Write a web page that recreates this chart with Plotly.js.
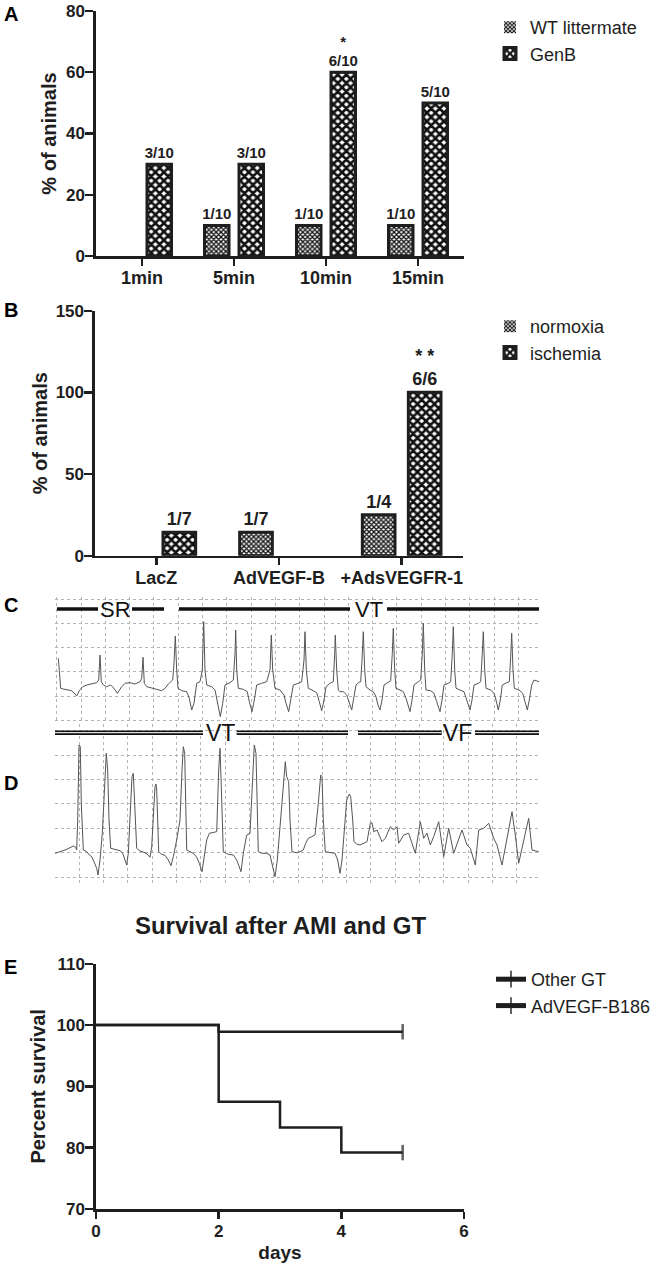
<!DOCTYPE html>
<html><head><meta charset="utf-8">
<script src="https://cdn.plot.ly/plotly-3.0.1.min.js"></script>
<style>body{margin:0;background:#fff}</style>
</head><body><div id="chart" style="width:664px;height:1268px"></div>
<script>
// ---------- Panel A ----------
const aCategories = ['1min', '5min', '10min', '15min'];
const aWT = [0, 10, 10, 10];
const aGenB = [30, 30, 60, 50];
const aWTLabels = ['', '1/10', '1/10', '1/10'];
const aGenBLabels = ['3/10', '3/10', '*<br>6/10', '5/10'];
const aYTicks = [0, 20, 40, 60, 80];

// ---------- Panel B ----------
const bCategories = ['LacZ', 'AdVEGF-B', '+AdsVEGFR-1'];
const bNormoxia = [0, 14.3, 25];
const bIschemia = [14.3, 0, 100];
const bNormoxiaLabels = ['', '1/7', '1/4'];
const bIschemiaLabels = ['1/7', '', '* *<br>6/6'];
const bYTicks = [0, 50, 100, 150];

// ---------- Panel C (ECG strip: time, amplitude in strip units) ----------
const cECG = [[3.3,41.7],[4,30],[5.7,11.7],[8.3,11],[11.7,10],[16.7,9.3],[20,6],[21.7,4],[24.3,9.3],[27.7,13.3],[31.7,15],[36.7,16],[41.7,17.3],[43.7,20],[45,45],[46.3,18.3],[48.3,15],[51.7,13.3],[55.7,15],[59,11.7],[62.3,6.7],[66.7,13.3],[70,16.7],[75,17.3],[80,16],[85,18.3],[86.7,21.7],[88,42.7],[89.3,16.7],[91.7,13.3],[96.7,11.7],[101.7,10.7],[106.7,9.3],[110,11.7],[113.3,16],[117.7,20],[119,36.7],[120.3,64],[121.7,30],[123,11.7],[126.7,9.3],[131.7,8.3],[134.3,1.7],[136.7,-10],[139,-3.3],[141.7,16.7],[145,18.3],[147.3,30],[148.7,78.3],[150,30],[151.7,15],[156.7,13.3],[160,10],[162.7,-3.3],[165.3,-16.7],[167.7,-3.3],[170,15],[175,17.3],[178.3,20],[180,46.7],[180.7,70],[181.7,30],[183.3,11.7],[188.3,10.7],[192.3,8.3],[194.3,-1.7],[197,-11.7],[199.3,0],[201.7,15],[206.7,16.7],[211.7,18.3],[215,30],[216.3,65],[217.7,30],[220,11.7],[225,10],[229,5],[231,-3.3],[233.7,-11.7],[235.7,0],[238.3,15],[243.3,16.7],[246.7,18.3],[249,40],[250,68.3],[251.3,30],[253.3,11.7],[258.3,9.3],[261.7,7.3],[264.3,-1.7],[266.7,-10.7],[269,0],[271,13.3],[275,16.7],[278.3,18.3],[279.7,46.7],[280.3,65],[281.7,30],[283.3,10],[285,8.3],[288.3,8.3],[291.7,5],[294.3,-3.3],[296.7,-10],[299,3.3],[301,15],[303.3,17.3],[305.7,18.3],[307,40],[308.3,68.3],[309.7,30],[311,13.3],[315,10],[318.3,8.3],[321,3.3],[323,-5],[325,-10],[327,0],[329,15],[333.3,18.3],[335.7,19.3],[337.3,46.7],[338.3,71.7],[339.7,30],[341,11.7],[345,10],[348.3,8.3],[351,1.7],[353.3,-6.7],[355,-11.7],[357,0],[359,15],[363.3,18.3],[365.7,20],[367.3,46.7],[368.3,76.7],[369.7,30],[371,10],[375.7,9.3],[379,6.7],[381.7,-1.7],[385,-11.7],[387,0],[389,15],[393.3,16.7],[395.7,18.3],[397.3,46.7],[398.3,73.3],[399.7,30],[401,11.7],[405,10],[409,8.3],[411.7,0],[415,-10],[417,0],[419,15],[423.3,16.7],[425.7,18.3],[427.3,46.7],[428.3,68.3],[429.7,30],[431,11.7],[435.7,10],[439,6.7],[441,0],[443.3,-10],[445.3,0],[447.3,15],[451.7,17.3],[454.3,18.3],[455.7,43.3],[456.7,66.7],[458,30],[459.3,11.7],[464,10],[467.7,6.7],[470,-1.7],[472.3,-10],[474.3,0],[476.7,15],[479,20],[482.3,19.3],[484,18.3]];
const cRhythmLabels = ['SR', 'VT'];
const cRhythmLabelTime = [60, 314];
const cRhythmBarStart = [2, 77, 124, 332];
const cRhythmBarEnd = [43, 109, 295, 484];
const cRhythmLevel = 91;

// ---------- Panel D ----------
const dECG = [[0,36.7],[5,38.3],[10,40],[15,42.3],[18.3,44],[20.7,42.7],[21.7,40],[22.7,70],[24,145],[25.3,143.3],[26.3,86.7],[28.3,40],[31.7,38.3],[34.3,35],[36.7,33.3],[39,28.3],[41.7,21.7],[43,15],[45,30],[47.3,56.7],[50,103.3],[51.3,136.7],[52.7,120],[54,70],[55.7,41.7],[60,40.7],[65,39.3],[67.7,36.7],[70,30],[71.7,25],[73.3,36.7],[75,70],[77,113.3],[78.3,116.7],[79.7,86.7],[81.7,41.7],[85,39],[90,37.3],[93.3,35],[95,32.7],[96.7,43.3],[98.3,73.3],[100,103.3],[101,106],[101.7,100],[103.7,38.3],[106.7,35.7],[110,34.7],[113.3,30],[116,24.3],[118.3,33.3],[121.7,50],[125,70],[127,120],[128.3,143.3],[129.7,136.7],[131.7,40],[135,38.3],[138.3,36.7],[141.7,32.7],[144.3,26.7],[147,18.3],[149,30],[151.7,50],[154.3,56.7],[158.3,57.3],[161.7,58.3],[163.7,120],[165,141.7],[166.3,103.3],[168.3,38.3],[173.3,35.7],[178.3,35],[181.7,30],[184.3,21.7],[186,18.3],[188.3,36.7],[191.7,55],[195,56.7],[197,103.3],[199.3,145],[201,136.7],[203.3,38.3],[206.7,36.7],[211.7,36.7],[215,35],[217.7,23.3],[220,13.3],[222.3,30],[225,60],[228.3,103.3],[230.3,128.3],[231.7,113.3],[233.7,108.3],[235,70],[237,38.3],[241.7,37.3],[245,38.3],[248.3,40],[250.7,46.7],[253.3,51.7],[256.7,53.3],[260,55],[263.3,86.7],[265.7,115],[267,113.3],[268.3,70],[270.3,38.3],[275,37.3],[280,36.7],[282.7,30],[285,16.7],[287,30],[289,60],[291.7,90],[294.3,96],[295.7,93.3],[297.7,70],[299,48.3],[301.7,46],[305,45],[312,48.3],[315.3,66.7],[317,67.3],[318.7,58.3],[322,60],[327,48.3],[330.3,51.7],[335.3,63.3],[338.7,60],[342,63.3],[343.7,46.7],[348.7,55],[353.7,56.7],[360.3,36.7],[365.3,68.3],[368.7,51.7],[372,56.7],[375.3,45],[378.7,53.3],[383.7,68.3],[388.7,33.3],[393.7,61.7],[398.7,36.7],[402,46.7],[407,60],[412,45],[415.3,41.7],[420.3,25],[423.7,60],[428.7,61.7],[433.7,66.7],[438.7,51.7],[442,45],[447,25],[452,51.7],[457,78.3],[460.3,55],[463.7,26.7],[470.3,56.7],[473.7,71.7],[477,40],[483.7,38.3]];
const dRhythmLabels = ['VT', 'VF'];
const dRhythmLabelTime = [165, 402.5];
const dRhythmBarStart = [0, 181.7, 303, 420];
const dRhythmBarEnd = [148, 293, 386.7, 484];
const dRhythmLevel = 157.3;

// ---------- Panel E ----------
const eOtherDays = [0, 2, 5];
const eOtherSurvival = [100, 98.9, 98.9];
const eOtherCensored = [0, 0, 1];
const eAdDays = [0, 2, 3, 4, 5];
const eAdSurvival = [100, 87.5, 83.3, 79.2, 79.2];
const eAdCensored = [0, 0, 0, 0, 1];
const eXTicks = [0, 2, 4, 6];
const eYTicks = [70, 80, 90, 100, 110];

// ---------- styling ----------
const FONT = 'Liberation Sans, Arial, sans-serif';
const INK = '#1e1e1e';
const W = 664, H = 1268;
const px = v => v / W;
const py = v => 1 - v / H;

function segs(starts, ends, level) {
  const x = [], y = [];
  starts.forEach((s, i) => { x.push(s, ends[i], null); y.push(level, level, null); });
  return {x, y};
}

const patFine = {shape: 'x', fgcolor: '#111', bgcolor: '#fff', size: 3.4, solidity: 0.62};
const patCoarse = {shape: 'x', fgcolor: '#111', bgcolor: '#fff', size: 6, solidity: 0.68};

// outline only for bars that exist (value 0 -> no bar drawn)
const barLine = vals => ({color: INK, width: vals.map(v => v ? 3 : 0)});
const traces = [];

function barTrace(x, y, name, legend, group, xa, ya, pattern, text, fsize) {
  return {type: 'bar', x, y, name, legend, legendgroup: group, xaxis: xa, yaxis: ya,
    marker: {color: '#fff', line: barLine(y), pattern},
    text, textposition: 'outside', cliponaxis: false, constraintext: 'none',
    textfont: {family: FONT, size: fsize, color: INK, weight: 'bold'}, hoverinfo: 'skip'};
}
traces.push(barTrace(aCategories, aWT, 'WT littermate', 'legend', 'a1', 'x', 'y', patFine, aWTLabels, 15));
traces.push(barTrace(aCategories, aGenB, 'GenB', 'legend', 'a2', 'x', 'y', patCoarse, aGenBLabels, 15));
traces.push(barTrace(bCategories, bNormoxia, 'normoxia', 'legend2', 'b1', 'x2', 'y2', patFine, bNormoxiaLabels, 18));
traces.push(barTrace(bCategories, bIschemia, 'ischemia', 'legend2', 'b2', 'x2', 'y2', patCoarse, bIschemiaLabels, 18));

// ECG C
traces.push({type: 'scatter', mode: 'lines', x: cECG.map(p => p[0]), y: cECG.map(p => p[1]),
  xaxis: 'x3', yaxis: 'y3', showlegend: false, line: {color: '#555', width: 1}, hoverinfo: 'skip'});
const cs = segs(cRhythmBarStart, cRhythmBarEnd, cRhythmLevel);
traces.push({type: 'scatter', mode: 'lines', x: cs.x, y: cs.y, xaxis: 'x3', yaxis: 'y3', showlegend: false,
  line: {color: '#111', width: 3.5}, hoverinfo: 'skip'});

// ECG D
traces.push({type: 'scatter', mode: 'lines', x: dECG.map(p => p[0]), y: dECG.map(p => p[1]),
  xaxis: 'x4', yaxis: 'y4', showlegend: false, line: {color: '#555', width: 1}, hoverinfo: 'skip'});
const ds = segs(dRhythmBarStart, dRhythmBarEnd, dRhythmLevel);
traces.push({type: 'scatter', mode: 'lines', x: ds.x, y: ds.y, xaxis: 'x4', yaxis: 'y4', showlegend: false,
  line: {color: '#111', width: 4.5}, hoverinfo: 'skip'});
traces.push({type: 'scatter', mode: 'lines', x: ds.x, y: ds.y, xaxis: 'x4', yaxis: 'y4', showlegend: false,
  line: {color: '#ddd', width: 1.3}, hoverinfo: 'skip'});

// Survival E
traces.push({type: 'scatter', mode: 'lines+markers', x: eOtherDays, y: eOtherSurvival, name: 'Other GT',
  legend: 'legend3', xaxis: 'x5', yaxis: 'y5', line: {color: INK, width: 2.5, shape: 'hv'},
  marker: {symbol: 'line-ns-open', color: INK, size: eOtherCensored.map(c => c ? 11 : 0), line: {color: INK, width: 2.5}},
  hoverinfo: 'skip', cliponaxis: false});
traces.push({type: 'scatter', mode: 'lines+markers', x: eAdDays, y: eAdSurvival, name: 'AdVEGF-B186',
  legend: 'legend3', xaxis: 'x5', yaxis: 'y5', line: {color: INK, width: 2.5, shape: 'hv'},
  marker: {symbol: 'line-ns-open', color: INK, size: eAdCensored.map(c => c ? 11 : 0), line: {color: INK, width: 2.5}},
  hoverinfo: 'skip', cliponaxis: false});

function valueAxis(domain, range, tickvals, anchor, titleText, standoff) {
  return {domain, range, tickvals, anchor, fixedrange: true,
    showline: true, linecolor: INK, linewidth: 2.6, ticks: 'outside', ticklen: 8, tickwidth: 2.4, tickcolor: INK,
    showgrid: false, zeroline: false, ticklabelstandoff: -3,
    tickfont: {family: FONT, size: 17, color: INK, weight: 'bold'},
    title: {text: titleText, font: {family: FONT, size: 20, color: INK, weight: 'bold'}, standoff: standoff}};
}
function catAxis(domain, anchor) {
  return {domain, anchor, type: 'category', fixedrange: true,
    showline: true, linecolor: INK, linewidth: 2.6, ticks: 'outside', ticklen: 7, tickwidth: 2.4, tickcolor: INK,
    showgrid: false, zeroline: false, ticklabelstandoff: -3,
    tickfont: {family: FONT, size: 18, color: INK, weight: 'bold'}};
}
function stripAxis(domain, anchor, range, tick0, dtick) {
  return {domain, anchor, range, tick0, dtick, fixedrange: true, showticklabels: false, ticks: '',
    showline: false, zeroline: false, showgrid: true, gridcolor: '#b4b4b4', griddash: 'dot', gridwidth: 1};
}

const xA = catAxis([px(96), px(464)], 'y'); xA.range = [-0.5, 3.5];
const yA = valueAxis([py(256), py(11)], [0, 80], aYTicks, 'x', '% of animals', 4);
const xB = catAxis([px(95), px(463)], 'y2'); xB.range = [-0.5, 2.5];
const yB = valueAxis([py(555.7), py(310.7)], [0, 150], bYTicks, 'x2', '% of animals', 3);
const xE = valueAxis([px(96), px(464)], [0, 6], eXTicks, 'y5', 'days', 6);
xE.ticklen = 7; xE.title.font.size = 19; xE.ticklabelstandoff = -2;
const yE = valueAxis([py(1209), py(963.7)], [70, 110], eYTicks, 'x5', 'Percent survival', 6);

const legendBase = {xanchor: 'left', yanchor: 'top', bgcolor: 'rgba(0,0,0,0)', borderwidth: 0,
  font: {family: FONT, size: 18, color: INK}, tracegroupgap: 2, traceorder: 'normal'};

const panelLetter = (t, x, y) => ({text: t, x: px(x), y: py(y), xref: 'paper', yref: 'paper', showarrow: false,
  xanchor: 'center', yanchor: 'middle', font: {family: FONT, size: 20, color: '#000', weight: 'bold'}});

const annotations = [
  panelLetter('A', 10.5, 14), panelLetter('B', 10.5, 309.5), panelLetter('C', 10.5, 605),
  panelLetter('D', 10.5, 783), panelLetter('E', 10.5, 967)
];
cRhythmLabels.forEach((t, i) => annotations.push({text: t, x: cRhythmLabelTime[i], y: cRhythmLevel, xref: 'x3', yref: 'y3',
  showarrow: false, xanchor: 'center', yanchor: 'middle', font: {family: FONT, size: 22, color: '#111'}}));
dRhythmLabels.forEach((t, i) => annotations.push({text: t, x: dRhythmLabelTime[i], y: dRhythmLevel, xref: 'x4', yref: 'y4',
  showarrow: false, xanchor: 'center', yanchor: 'middle', font: {family: FONT, size: 23, color: '#111'}}));

const layout = {
  width: W, height: H, margin: {l: 0, r: 0, t: 0, b: 0}, paper_bgcolor: '#fff', plot_bgcolor: 'rgba(0,0,0,0)',
  font: {family: FONT, color: INK}, barmode: 'group', bargap: 0.25, bargroupgap: 0.29,
  title: {text: 'Survival after AMI and GT', x: px(280.5), xanchor: 'center', y: py(926), yanchor: 'middle',
    xref: 'paper', yref: 'paper', font: {family: FONT, size: 24, color: INK, weight: 'bold'}},
  xaxis: xA, yaxis: yA, xaxis2: xB, yaxis2: yB,
  xaxis3: stripAxis([px(55), px(540)], 'y3', [0, 485], 1.7, 24.3),
  yaxis3: stripAxis([py(722), py(597)], 'x3', [-22, 103], 4, 24.2),
  xaxis4: stripAxis([px(55), px(540)], 'y4', [0, 485], 0, 24.3),
  yaxis4: stripAxis([py(886), py(724)], 'x4', [4, 166], 13, 24.4),
  xaxis5: xE, yaxis5: yE,
  legend: Object.assign({}, legendBase, {x: px(490), y: py(9)}),
  legend2: Object.assign({}, legendBase, {x: px(490), y: py(308)}),
  legend3: Object.assign({}, legendBase, {x: px(491), y: py(961), itemsizing: 'constant', tracegroupgap: 0}),
  annotations, showlegend: true
};

Plotly.newPlot('chart', traces, layout, {staticPlot: true, displayModeBar: false});
</script></body></html>
